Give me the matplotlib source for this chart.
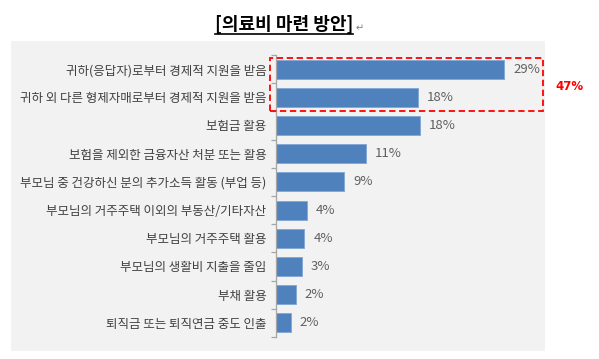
import matplotlib
matplotlib.use("Agg")
import matplotlib.pyplot as plt
from matplotlib.patches import Rectangle
from matplotlib.lines import Line2D
import numpy as np

plt.rcParams['font.family'] = ['Noto Sans CJK KR', 'DejaVu Sans']

title = "[의료비 마련 방안]"
categories = [
    "귀하(응답자)로부터 경제적 지원을 받음",
    "귀하 외 다른 형제자매로부터 경제적 지원을 받음",
    "보험금 활용",
    "보험을 제외한 금융자산 처분 또는 활용",
    "부모님 중 건강하신 분의 추가소득 활동 (부업 등)",
    "부모님의 거주주택 이외의 부동산/기타자산",
    "부모님의 거주주택 활용",
    "부모님의 생활비 지출을 줄임",
    "부채 활용",
    "퇴직금 또는 퇴직연금 중도 인출",
]
values = [29.0, 18.0, 18.3, 11.4, 8.7, 3.9, 3.6, 3.3, 2.5, 1.9]
value_labels = ["29%", "18%", "18%", "11%", "9%", "4%", "4%", "3%", "2%", "2%"]
highlight_label = "47%"

W, H = 599, 359
fig = plt.figure(figsize=(W / 100, H / 100), dpi=100)

def fx(x):
    return x / W

def fy(y):
    return 1 - y / H

# gray panel
fig.patches.append(Rectangle((fx(11), fy(351)), fx(545) - fx(11), fy(41) - fy(351),
                             transform=fig.transFigure, facecolor='#F2F2F2',
                             edgecolor='none', zorder=-5))

ax_left, ax_right = 276, 545
ax_top, ax_bot = 55, 337
ax = fig.add_axes([fx(ax_left), fy(ax_bot), fx(ax_right) - fx(ax_left), fy(ax_top) - fy(ax_bot)])
ax.patch.set_alpha(0)
ax.set_zorder(1)

n = len(categories)
pos = np.arange(n)
bars = ax.barh(pos, values, height=0.68, color='#4F81BD', edgecolor='#86A8D4', linewidth=0.7)
xmax = 29.0 * (ax_right - ax_left) / (504 - ax_left)
ax.set_xlim(0, xmax)
ax.set_ylim(n - 0.5, -0.5)

for b, lab in zip(bars, value_labels):
    ax.annotate(lab, (b.get_width(), b.get_y() + b.get_height() / 2),
                xytext=(6.5, 0), textcoords='offset points', va='center', ha='left',
                fontsize=9.5, color='#606060')

for s in ['top', 'right', 'bottom']:
    ax.spines[s].set_visible(False)
ax.spines['left'].set_color('#A6A6A6')
ax.spines['left'].set_linewidth(0.9)
ax.set_xticks([])
ax.set_yticks(pos)
ax.set_yticklabels(categories, fontsize=9, color='#404040')
ax.tick_params(axis='y', which='major', length=0, pad=7)
ax.set_yticks(np.arange(n + 1) - 0.5, minor=True)
ax.tick_params(axis='y', which='minor', length=3.5, color='#A6A6A6', width=0.9, direction='out')

# highlight box
fig.patches.append(Rectangle((fx(270), fy(111)), fx(543) - fx(270), fy(58) - fy(111),
                             transform=fig.transFigure, facecolor='none',
                             edgecolor='#FF0000', linewidth=1.3, linestyle=(0, (3.5, 2)),
                             zorder=5))
fig.text(fx(570), fy(86), highlight_label, color='#FF0000', fontsize=8.5,
         fontweight='bold', ha='center', va='center', fontfamily=['DejaVu Sans'])

# title with underline
t = fig.text(fx(284), fy(24.5), title, fontsize=13, fontweight='bold',
             ha='center', va='center', color='black')
fig.canvas.draw()
bb = t.get_window_extent(renderer=fig.canvas.get_renderer())
inv = fig.transFigure.inverted()
(x0, y0), (x1, y1) = inv.transform([[bb.x0, bb.y0], [bb.x1, bb.y1]])
fig.lines.append(Line2D([x0, x1], [fy(33.5), fy(33.5)], transform=fig.transFigure,
                        color='black', linewidth=1.2))
fig.text(x1 + fx(2), fy(28), "↵", fontsize=7, color='#7F7F7F', ha='left', va='center',
         fontfamily=['DejaVu Sans'])

fig.savefig("out.png", dpi=100)
